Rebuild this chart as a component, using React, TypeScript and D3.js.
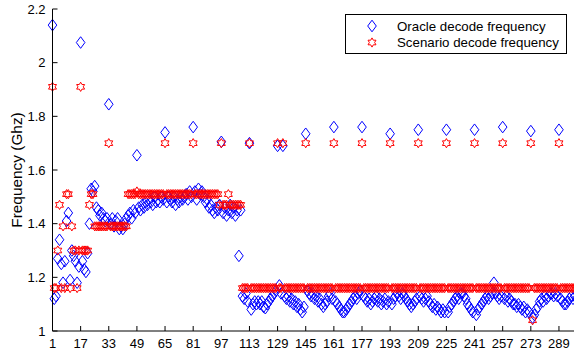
import React from 'react';
import * as d3 from 'd3';

// frame-by-frame decode frequency (GHz), index 1..300
const oracleFreq = [
  2.14, 1.12, 1.13, 1.27, 1.34, 1.25, 1.18, 1.26, 1.41, 1.44, 1.19, 1.30, 1.28, 1.26, 1.18, 1.24,
  2.075, 1.26, 1.23, 1.22, 1.29, 1.40, 1.53, 1.52, 1.54, 1.46, 1.45, 1.43, 1.44, 1.42, 1.41, 1.42,
  1.845, 1.40, 1.42, 1.39, 1.41, 1.42, 1.38, 1.39, 1.38, 1.40, 1.42, 1.43, 1.44, 1.42, 1.45, 1.44,
  1.655, 1.46, 1.45, 1.47, 1.46, 1.48, 1.47, 1.49, 1.48, 1.47, 1.50, 1.48, 1.49, 1.48, 1.50, 1.49,
  1.74, 1.48, 1.50, 1.49, 1.48, 1.50, 1.47, 1.49, 1.48, 1.50, 1.49, 1.50, 1.51, 1.49, 1.52, 1.50,
  1.76, 1.52, 1.49, 1.53, 1.51, 1.52, 1.50, 1.48, 1.49, 1.46, 1.47, 1.45, 1.44, 1.46, 1.45, 1.47,
  1.705, 1.44, 1.46, 1.43, 1.45, 1.47, 1.44, 1.46, 1.43, 1.45, 1.28, 1.45, 1.13, 1.12, 1.14, 1.11,
  1.70, 1.08, 1.10, 1.11, 1.10, 1.11, 1.10, 1.11, 1.09, 1.085, 1.10, 1.11, 1.12, 1.13, 1.14, 1.15,
  1.69, 1.17, 1.14, 1.69, 1.13, 1.12, 1.13, 1.11, 1.12, 1.10, 1.11, 1.09, 1.10, 1.08, 1.07, 1.09,
  1.735, 1.15, 1.14, 1.13, 1.14, 1.12, 1.13, 1.11, 1.12, 1.10, 1.09, 1.10, 1.11, 1.13, 1.14, 1.12,
  1.76, 1.11, 1.10, 1.09, 1.08, 1.07, 1.07, 1.08, 1.09, 1.10, 1.11, 1.12, 1.13, 1.12, 1.14, 1.15,
  1.76, 1.13, 1.12, 1.11, 1.12, 1.10, 1.11, 1.12, 1.13, 1.11, 1.12, 1.10, 1.11, 1.12, 1.10, 1.11,
  1.735, 1.10, 1.12, 1.13, 1.14, 1.13, 1.12, 1.14, 1.13, 1.12, 1.11, 1.10, 1.09, 1.10, 1.11, 1.12,
  1.75, 1.13, 1.12, 1.11, 1.12, 1.13, 1.11, 1.10, 1.09, 1.10, 1.08, 1.09, 1.08, 1.07, 1.08, 1.07,
  1.75, 1.07, 1.09, 1.10, 1.11, 1.12, 1.13, 1.12, 1.14, 1.14, 1.13, 1.12, 1.10, 1.09, 1.08, 1.07,
  1.75, 1.06, 1.08, 1.09, 1.10, 1.11, 1.12, 1.13, 1.12, 1.13, 1.14, 1.18, 1.14, 1.13, 1.12, 1.13,
  1.76, 1.12, 1.13, 1.11, 1.12, 1.11, 1.10, 1.10, 1.09, 1.10, 1.09, 1.08, 1.09, 1.07, 1.08, 1.07,
  1.745, 1.05, 1.06, 1.08, 1.09, 1.11, 1.12, 1.11, 1.13, 1.12, 1.13, 1.14, 1.14, 1.13, 1.14, 1.13,
  1.75, 1.12, 1.11, 1.10, 1.10, 1.11, 1.12, 1.13, 1.12, 1.13, 1.12, 1.13
];

const scenarioFreq = [
  1.91, 1.16, 1.16, 1.30, 1.47, 1.16, 1.39, 1.16, 1.51, 1.51, 1.16, 1.39, 1.30, 1.30, 1.16, 1.30,
  1.91, 1.30, 1.30, 1.30, 1.30, 1.47, 1.51, 1.51, 1.39, 1.39, 1.39, 1.39, 1.39, 1.39, 1.39, 1.39,
  1.70, 1.39, 1.39, 1.39, 1.39, 1.39, 1.39, 1.39, 1.39, 1.39, 1.39, 1.51, 1.51, 1.51, 1.51, 1.51,
  1.52, 1.51, 1.51, 1.51, 1.51, 1.51, 1.51, 1.51, 1.51, 1.51, 1.51, 1.51, 1.51, 1.51, 1.51, 1.51,
  1.70, 1.51, 1.51, 1.51, 1.51, 1.51, 1.51, 1.51, 1.51, 1.51, 1.51, 1.51, 1.51, 1.51, 1.51, 1.51,
  1.70, 1.51, 1.51, 1.51, 1.51, 1.51, 1.51, 1.51, 1.51, 1.51, 1.51, 1.51, 1.51, 1.51, 1.51, 1.47,
  1.70, 1.47, 1.47, 1.47, 1.51, 1.47, 1.47, 1.47, 1.47, 1.47, 1.47, 1.47, 1.16, 1.16, 1.16, 1.16,
  1.70, 1.16, 1.16, 1.16, 1.16, 1.16, 1.16, 1.16, 1.16, 1.16, 1.16, 1.16, 1.16, 1.16, 1.16, 1.16,
  1.70, 1.16, 1.16, 1.70, 1.16, 1.16, 1.16, 1.16, 1.16, 1.16, 1.16, 1.16, 1.16, 1.16, 1.16, 1.16,
  1.70, 1.16, 1.16, 1.16, 1.16, 1.16, 1.16, 1.16, 1.16, 1.16, 1.16, 1.16, 1.16, 1.16, 1.16, 1.16,
  1.70, 1.16, 1.16, 1.16, 1.16, 1.16, 1.16, 1.16, 1.16, 1.16, 1.16, 1.16, 1.16, 1.16, 1.16, 1.16,
  1.70, 1.16, 1.16, 1.16, 1.16, 1.16, 1.16, 1.16, 1.16, 1.16, 1.16, 1.16, 1.16, 1.16, 1.16, 1.16,
  1.70, 1.16, 1.16, 1.16, 1.16, 1.16, 1.16, 1.16, 1.16, 1.16, 1.16, 1.16, 1.16, 1.16, 1.16, 1.16,
  1.70, 1.16, 1.16, 1.16, 1.16, 1.16, 1.16, 1.16, 1.16, 1.16, 1.16, 1.16, 1.16, 1.16, 1.16, 1.16,
  1.70, 1.16, 1.16, 1.16, 1.16, 1.16, 1.16, 1.16, 1.16, 1.16, 1.16, 1.16, 1.16, 1.16, 1.16, 1.16,
  1.70, 1.16, 1.16, 1.16, 1.16, 1.16, 1.16, 1.16, 1.16, 1.16, 1.16, 1.16, 1.16, 1.16, 1.16, 1.16,
  1.70, 1.16, 1.16, 1.16, 1.16, 1.16, 1.16, 1.16, 1.16, 1.16, 1.16, 1.16, 1.16, 1.16, 1.16, 1.16,
  1.70, 1.04, 1.16, 1.16, 1.16, 1.16, 1.16, 1.16, 1.16, 1.16, 1.16, 1.16, 1.16, 1.16, 1.16, 1.16,
  1.70, 1.16, 1.16, 1.16, 1.16, 1.16, 1.16, 1.16, 1.16, 1.16, 1.16, 1.16
];

const xTicks = [1, 17, 33, 49, 65, 81, 97, 113, 129, 145, 161, 177, 193, 209, 225, 241, 257, 273, 289];
const yTicks = [1, 1.2, 1.4, 1.6, 1.8, 2, 2.2];
const seriesNames = ['Oracle decode frequency', 'Scenario decode frequency'];

const W = 574, H = 351;
const font = '"Liberation Sans", Arial, Helvetica, sans-serif';

function diamondPath(w: number, h: number) {
  return `M0,${-h}L${w},0L0,${h}L${-w},0Z`;
}

function hexagramPath(R: number) {
  const r = R / Math.sqrt(3);
  const pts: [number, number][] = [];
  for (let k = 0; k < 12; k++) {
    const a = -Math.PI / 2 + k * Math.PI / 6;
    const rr = k % 2 === 0 ? R : r;
    pts.push([rr * Math.cos(a), rr * Math.sin(a)]);
  }
  return d3.line()(pts) + 'Z';
}

export default function App() {
  const x = d3.scaleLinear().domain([1, 300]).range([52.5, 578.3]);
  const y = d3.scaleLinear().domain([1, 2.2]).range([331, 9]);

  const dia = diamondPath(4.3, 5.8);
  const hex = hexagramPath(4.6);
  const fmt = d3.format('~g');

  return (
    <svg width={W} height={H} style={{ position: 'absolute', left: 0, top: 0, background: '#fff' }}
         fontFamily={font}>
      <rect x={0} y={0} width={W} height={H} fill="#fff" />

      {/* oracle diamonds */}
      <g fill="none" stroke="#0000ff" strokeWidth={1}>
        {oracleFreq.map((v, i) => (
          <path key={'o' + i} d={dia} transform={`translate(${x(i + 1)},${y(v)})`} />
        ))}
      </g>

      {/* scenario hexagrams */}
      <g fill="none" stroke="#ff0000" strokeWidth={1}>
        {scenarioFreq.map((v, i) => (
          <path key={'s' + i} d={hex} transform={`translate(${x(i + 1)},${y(v)})`} />
        ))}
      </g>

      {/* axes */}
      <g stroke="#000" strokeWidth={1} fill="none">
        <line x1={x(1)} x2={x(1)} y1={y(2.2)} y2={y(1)} />
        <line x1={x(1)} x2={W} y1={y(1)} y2={y(1)} />
        {yTicks.map(t => (
          <line key={'yt' + t} x1={x(1)} x2={x(1) + 5} y1={y(t)} y2={y(t)} />
        ))}
        {xTicks.map(t => (
          <line key={'xt' + t} x1={x(t)} x2={x(t)} y1={y(1)} y2={y(1) - 5} />
        ))}
      </g>
      <g fontSize={13} fill="#000">
        {yTicks.map(t => (
          <text key={'yl' + t} x={x(1) - 7} y={y(t)} dy="0.35em" textAnchor="end">{fmt(t)}</text>
        ))}
        {xTicks.map(t => (
          <text key={'xl' + t} x={x(t)} y={y(1) + 17} textAnchor="middle">{t}</text>
        ))}
      </g>
      <text transform={`translate(22,${(y(1) + y(2.2)) / 2}) rotate(-90)`} textAnchor="middle"
            fontSize={15.4} fill="#000">Frequency (Ghz)</text>

      {/* legend */}
      <g>
        <rect x={345.5} y={14.5} width={221} height={39} fill="#fff" stroke="#000" strokeWidth={1} />
        <path d={dia} transform="translate(372,26)" fill="none" stroke="#0000ff" />
        <path d={hex} transform="translate(372,42.5)" fill="none" stroke="#ff0000" />
        <text x={397} y={26} dy="0.35em" fontSize={13.3} fill="#000">{seriesNames[0]}</text>
        <text x={397} y={42.5} dy="0.35em" fontSize={13.3} fill="#000">{seriesNames[1]}</text>
      </g>
    </svg>
  );
}
